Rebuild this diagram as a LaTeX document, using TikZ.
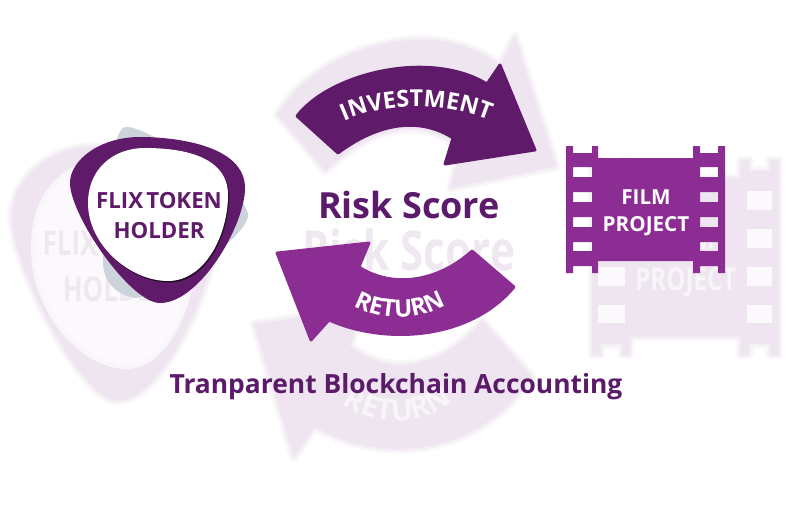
\documentclass[tikz,border=0pt]{standalone}
\usepackage{fontspec}
\usetikzlibrary{decorations.text}
\setmainfont{Open Sans}[BoldFont={Open Sans Bold}]
\newfontfamily\hb{Open Sans Bold}
\definecolor{darkp}{HTML}{5F1A69}
\definecolor{midp}{HTML}{8B2D92}
\definecolor{titlep}{HTML}{5C1A6A}
\definecolor{greyb}{HTML}{CDD3DA}
\definecolor{gbase}{HTML}{EEE5F0}
\definecolor{ghole}{HTML}{FBF9FC}
\definecolor{gtext}{HTML}{EFE8F1}
\definecolor{gfaint}{HTML}{F8F5F9}
\newcommand\arcfontA{\fontsize{17.5}{20}\selectfont\hb}
\newcommand\arcfontB{\fontsize{18}{20}\selectfont\hb}
\newcommand\arcfontC{\fontsize{21}{24}\selectfont\hb}
\newcommand\arcfontD{\fontsize{22}{24}\selectfont\hb}
\newcommand\pPick{(70,183) .. controls (70,160) and (100,137) .. (140,137) .. controls (175,137) and (245,145) .. (245,188) .. controls (245,225) and (200,303) .. (160,303) .. controls (130,303) and (70,215) .. (70,183) -- cycle}
\newcommand\pWhite{(88,203) .. controls (88,170) and (112,148) .. (145,148) .. controls (180,148) and (228,155) .. (228,195) .. controls (228,235) and (205,281) .. (168,281) .. controls (130,281) and (88,245) .. (88,203) -- cycle}
\newcommand\pGrey{(103,262) .. controls (105,220) and (110,130) .. (125,127) .. controls (145,124) and (247,190) .. (248,215) .. controls (248,240) and (150,300) .. (135,298) .. controls (115,295) and (103,280) .. (103,262) -- cycle}
\newcommand\pInvest{(297,116) .. controls (330,73) and (430,49) .. (487,84) -- (500,65) -- (535,150) -- (445,164) -- (453,138) .. controls (425,120) and (385,118) .. (338,153) -- cycle}
\newcommand\pReturn{(514,287) .. controls (470,340) and (385,345) .. (329,320) -- (311,340) -- (277,253) -- (369,243) -- (359,267) .. controls (395,290) and (440,280) .. (472,251) -- cycle}
\newcommand\pFilm{(566,146) -- (573,146) -- (573,153) -- (592,153) -- (592,146) -- (598,146) -- (598,158) -- (693,158) -- (693,146) -- (700,146) -- (700,153) -- (718,153) -- (718,146) -- (725,146) -- (725,273) -- (718,273) -- (718,266) -- (700,266) -- (700,273) -- (693,273) -- (693,261) -- (598,261) -- (598,273) -- (592,273) -- (592,266) -- (573,266) -- (573,273) -- (566,273) -- cycle}
\newcommand\pHoles{(573,167) rectangle (592,177) (573,192) rectangle (592,202) (573,217) rectangle (592,227) (573,242) rectangle (592,251) (700,167) rectangle (718,177) (700,192) rectangle (718,202) (700,217) rectangle (718,227) (700,242) rectangle (718,251)}
\tikzset{
  rimA/.style={draw=gbase!30!white,line width=7pt,line join=round},
  rimB/.style={draw=gbase!65!white,line width=3.5pt,line join=round},
  roundfill/.style={fill=#1,draw=#1,line width=2.2pt,line join=round},
  filmfill/.style={fill=midp,even odd rule},
  label/.style={anchor=base,inner sep=0pt},
  ghostlabel/.style={label,text=gtext,transform shape},
  arctext/.style={decorate,decoration={text along path,text align=center,text color=#1}}
}
\begin{document}
\begin{tikzpicture}[x=0.75pt,y=-0.75pt]
\useasboundingbox (0,0) rectangle (799,515);
\clip (0,0) rectangle (799,515);
\fill[white] (0,0) rectangle (799,515);
\begin{scope}[shift={(-70,-63)},xscale=1.17,yscale=1.53]
  \foreach \sty in {rimA,rimB}{
    \path[\sty] \pPick;
    \path[\sty] \pInvest;
    \path[\sty] \pReturn;
    \path[\sty] \pFilm;
  }
  \fill[gbase] \pPick;
  \fill[gbase] \pInvest;
  \fill[gbase] \pReturn;
  \fill[gbase] \pFilm;
  \path[draw=gbase!35!white,line width=3pt,fill=ghole] \pWhite;
  \path[draw=ghole,line width=3pt,fill=ghole] \pHoles;
  \node[ghostlabel,font=\fontsize{16.7}{18}\selectfont\hb] (gflix) at (159,208) {FLIX\hspace{-2pt} TOKEN};
  \node[ghostlabel,font=\fontsize{16.7}{18}\selectfont\hb] (ghold) at (159,238) {HOLDER};
  \node[ghostlabel,font=\fontsize{27}{30}\selectfont\hb] (grisk) at (409,218) {Risk Score};
  \node[ghostlabel,text=gfaint,font=\fontsize{15.5}{18}\selectfont\hb] (gfilm) at (646,204) {FILM};
  \node[ghostlabel,text=gfaint,font=\fontsize{15.5}{18}\selectfont\hb] (gproj) at (646,231) {PROJECT};
\end{scope}
\path[arctext=gfaint,decoration={text={|\arcfontC|INVESTMENT}}] (328,125) .. controls (380,92) and (456,95) .. (506,124);
\path[arctext=gfaint,decoration={text={|\arcfontD|RETURN}}] (342,404) .. controls (375,427) and (421,427) .. (453,402);
\fill[greyb] \pGrey;
\fill[darkp] \pPick;
\fill[black!60!darkp,shift={(1,1.5)}] \pWhite;
\fill[white] \pWhite;
\path[roundfill=darkp] \pInvest;
\path[roundfill=midp] \pReturn;
\fill[filmfill] \pFilm \pHoles;
\path[arctext=white,decoration={text={|\arcfontA|INVESTMENT}}] (338,124) .. controls (385,100) and (450,102) .. (495,123);
\path[arctext=white,decoration={text={|\arcfontB|RETURN}}] (350,304) .. controls (380,322) and (420,322) .. (449,303);
\node[label,text=darkp,font=\fontsize{16.7}{18}\selectfont\hb] (flix) at (159,208) {FLIX\hspace{-2pt} TOKEN};
\node[label,text=darkp,font=\fontsize{16.7}{18}\selectfont\hb] (holder) at (159,238) {HOLDER};
\node[label,text=titlep,font=\fontsize{27}{30}\selectfont\hb] (risk) at (409,218) {Risk Score};
\node[label,text=white,font=\fontsize{15.5}{18}\selectfont\hb] (film) at (646,204) {FILM};
\node[label,text=white,font=\fontsize{15.5}{18}\selectfont\hb] (project) at (646,231) {PROJECT};
\node[label,text=titlep,font=\fontsize{19.8}{24}\selectfont\hb] (tran) at (396,393) {Tranparent Blockchain Accounting};
\end{tikzpicture}
\end{document}
